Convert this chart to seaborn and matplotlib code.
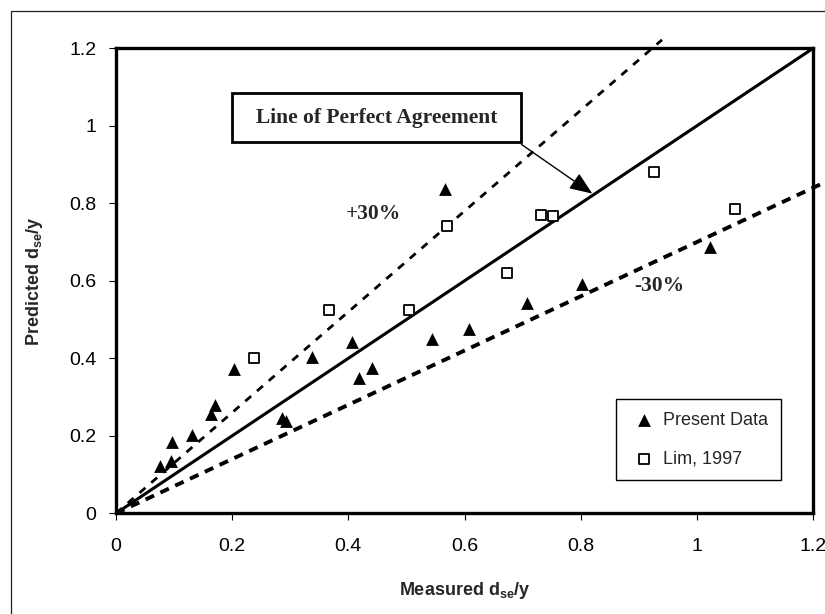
import numpy as np
import pandas as pd
import seaborn as sns
import matplotlib.pyplot as plt
from matplotlib.patches import Rectangle

# measured vs predicted scour depth ratio
present_x = [0.076, 0.094, 0.097, 0.130, 0.164, 0.170, 0.203, 0.285, 0.292, 0.337,
             0.407, 0.419, 0.441, 0.544, 0.566, 0.607, 0.708, 0.802, 1.022]
present_y = [0.121, 0.134, 0.184, 0.201, 0.257, 0.280, 0.373, 0.247, 0.238, 0.403,
             0.443, 0.348, 0.375, 0.449, 0.838, 0.476, 0.544, 0.591, 0.686]

lim_x = [0.238, 0.367, 0.505, 0.570, 0.673, 0.731, 0.752, 0.926, 1.066]
lim_y = [0.400, 0.524, 0.524, 0.741, 0.621, 0.770, 0.766, 0.880, 0.785]

# reference lines (x extents, slopes)
perfect_x = [0.0, 1.2]
plus30_x = [0.0, 0.94]
minus30_x = [0.0, 1.22]
ticks = [0, 0.2, 0.4, 0.6, 0.8, 1, 1.2]
tick_labels = ['0', '0.2', '0.4', '0.6', '0.8', '1', '1.2']

sns.set_style('ticks')
plt.rcParams['font.family'] = ['Liberation Sans', 'DejaVu Sans']
plt.rcParams['mathtext.fontset'] = 'custom'
plt.rcParams['mathtext.bf'] = 'Liberation Sans:bold'
plt.rcParams['mathtext.rm'] = 'Liberation Sans'

fig = plt.figure(figsize=(8.25, 6.14), dpi=100)
ax = fig.add_axes([0.1406, 0.164, 0.8449, 0.7573])

# outer chart border (cropped at right and bottom)
fig.patches.append(Rectangle((0.0133, -0.1), 1.2, 1.082, transform=fig.transFigure,
                             fill=False, lw=0.9, edgecolor='#222222'))

ax.plot(perfect_x, perfect_x, color='black', lw=2.2, solid_capstyle='butt', zorder=2)
ax.plot(plus30_x, [1.3 * v for v in plus30_x], color='black', lw=2.0,
        dashes=(2.8, 2.8), clip_on=False, zorder=2)
ax.plot(minus30_x, [0.7 * v for v in minus30_x], color='black', lw=2.8,
        dashes=(2.4, 1.8), clip_on=False, zorder=2)

present = pd.DataFrame({'x': present_x, 'y': present_y})
lim = pd.DataFrame({'x': lim_x, 'y': lim_y})
sns.scatterplot(data=present, x='x', y='y', marker='^', s=85, color='black',
                edgecolor='black', linewidth=0, ax=ax, label='Present Data', zorder=3)
sns.scatterplot(data=lim, x='x', y='y', marker='s', s=52, color='white',
                edgecolor='black', linewidth=1.3, ax=ax, label='Lim, 1997', zorder=3)

ax.set_xlim(0, 1.2)
ax.set_ylim(0, 1.2)
ax.set_xticks(ticks)
ax.set_xticklabels(tick_labels)
ax.set_yticks(ticks)
ax.set_yticklabels(tick_labels)
ax.tick_params(axis='both', direction='out', length=5, width=0.8, color='black',
               labelsize=14, labelcolor='black')
ax.tick_params(axis='x', pad=13)
ax.tick_params(axis='y', pad=9)
for sp in ax.spines.values():
    sp.set_visible(True)
    sp.set_linewidth(2.4)
    sp.set_color('black')

ax.set_xlabel(r'Measured d$_{\mathbf{se}}$/y', fontsize=13, fontweight='bold')
ax.set_ylabel(r'Predicted d$_{\mathbf{se}}$/y', fontsize=13, fontweight='bold')
ax.xaxis.set_label_coords(0.5, -0.143)
ax.yaxis.set_label_coords(-0.102, 0.5)

# annotation box and arrow
ax.add_patch(Rectangle((0.1997, 0.958), 0.4973, 0.1267, fill=False, lw=2,
                       edgecolor='black', zorder=4))
ax.text(0.4485, 1.021, 'Line of Perfect Agreement', ha='center', va='center',
        fontsize=15.5, fontweight='bold', family='Liberation Serif')
ax.annotate('', xy=(0.82, 0.825), xytext=(0.698, 0.952),
            arrowprops=dict(arrowstyle='-|>,head_length=0.7,head_width=0.28',
                            mutation_scale=20, lw=1, color='black',
                            shrinkA=0, shrinkB=0))
ax.text(0.4435, 0.772, '+30%', ha='center', va='center', fontsize=15.5,
        fontweight='bold', family='Liberation Serif')
ax.text(0.9355, 0.587, '-30%', ha='center', va='center', fontsize=15.5,
        fontweight='bold', family='Liberation Serif')

leg = ax.legend(loc='upper left', bbox_to_anchor=(0.718, 0.245), borderaxespad=0,
                fontsize=13, frameon=True, fancybox=False, borderpad=0.7,
                handlelength=1.6, handletextpad=0.3, labelspacing=1.2)
leg.get_frame().set_edgecolor('black')
leg.get_frame().set_linewidth(1)
leg.get_frame().set_alpha(1)

fig.savefig('out.png', dpi=100)
